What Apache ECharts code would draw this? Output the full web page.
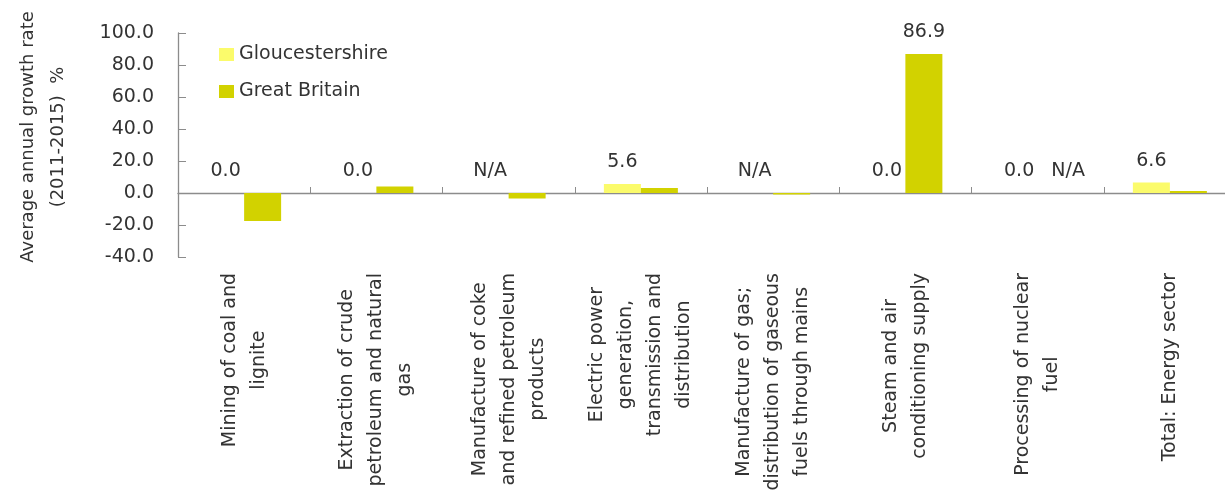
<!DOCTYPE html>
<html>
<head>
<meta charset="utf-8">
<script src="https://cdn.jsdelivr.net/npm/echarts@6/dist/echarts.min.js"></script>
<style>html,body{margin:0;padding:0;background:#fff}#c{width:1225px;height:494px}</style>
</head>
<body>
<div id="c"></div>
<script>
var categories = [
  "Mining of coal and\nlignite",
  "Extraction of crude\npetroleum and natural\ngas",
  "Manufacture of coke\nand refined petroleum\nproducts",
  "Electric power\ngeneration,\ntransmission and\ndistribution",
  "Manufacture of gas;\ndistribution of gaseous\nfuels through mains",
  "Steam and air\nconditioning supply",
  "Processing of nuclear\nfuel",
  "Total: Energy sector"
];
var seriesNames = ["Gloucestershire", "Great Britain"];
// null = N/A
var gloucestershire = [0.0, 0.0, null, 5.6, null, 0.0, 0.0, 6.6];
var greatBritain = [-17.5, 4.0, -3.5, 3.1, -1.0, 86.9, null, 1.2];
var gloucShowLabel = [true, true, true, true, true, true, true, true];
var gbShowLabel = [false, false, false, false, false, true, true, false];
var yTicks = [-40, -20, 0, 20, 40, 60, 80, 100];

var FONT = "DejaVu Sans";
var TXT = "#333333";
var FS = 19;

function buildData(values, show, extraOffset) {
  return values.map(function (v, i) {
    var isNA = v === null;
    return {
      value: isNA ? 0 : v,
      label: {
        show: show[i],
        formatter: isNA ? "N/A" : v.toFixed(1),
        offset: (isNA && extraOffset) ? [12, 0] : [0, 0]
      }
    };
  });
}

var chart = echarts.init(document.getElementById("c"));
chart.setOption({
  animation: false,
  backgroundColor: "#ffffff",
  textStyle: { fontFamily: FONT },
  legend: {
    orient: "vertical",
    left: 214,
    top: 40,
    itemWidth: 15,
    itemHeight: 13,
    itemGap: 18,
    icon: "rect",
    textStyle: { fontFamily: FONT, fontSize: FS, color: TXT },
    data: seriesNames
  },
  grid: { left: 178, right: -11, top: 33, bottom: 237, containLabel: false, outerBoundsMode: "none" },
  xAxis: {
    type: "category",
    data: categories,
    axisLine: { onZero: true, lineStyle: { color: "#8c8c8c", width: 1.3 } },
    axisTick: { show: true, inside: true, length: 6, lineStyle: { color: "#8c8c8c" } },
    axisLabel: {
      interval: 0,
      rotate: 90,
      margin: 16,
      fontFamily: FONT,
      fontSize: FS,
      color: TXT,
      lineHeight: 29,
      formatter: function (val) {
        return val.split("\n").map(function (l) { return "{c|" + l + "}"; }).join("\n");
      },
      rich: {
        c: { align: "center", fontFamily: FONT, fontSize: FS, color: TXT, lineHeight: 29 }
      }
    },
    splitLine: { show: false }
  },
  yAxis: {
    type: "value",
    min: -40,
    max: 100,
    interval: 20,
    name: "Average annual growth rate\n(2011-2015)  %",
    nameLocation: "middle",
    nameRotate: 90,
    nameGap: 105,
    nameTextStyle: { fontFamily: FONT, fontSize: 18, color: TXT, lineHeight: 30, align: "center", padding: [0, 0, 0, 16] },
    axisLine: { show: true, lineStyle: { color: "#8c8c8c", width: 1.3 } },
    axisTick: { show: true, inside: true, length: 8, lineStyle: { color: "#8c8c8c" } },
    axisLabel: {
      margin: 24,
      fontFamily: FONT,
      fontSize: FS,
      color: TXT,
      formatter: function (v) { return yTicks.indexOf(v) >= 0 ? v.toFixed(1) : ""; }
    },
    splitLine: { show: false }
  },
  series: [
    {
      name: seriesNames[0],
      type: "bar",
      data: buildData(gloucestershire, gloucShowLabel, false),
      barWidth: 37,
      barGap: "0%",
      itemStyle: { color: "#fbfb6b" },
      label: { show: true, position: "top", distance: 12, fontFamily: FONT, fontSize: FS, color: TXT }
    },
    {
      name: seriesNames[1],
      type: "bar",
      data: buildData(greatBritain, gbShowLabel, true),
      barWidth: 37,
      barGap: "0%",
      itemStyle: { color: "#d2d200" },
      label: { show: true, position: "top", distance: 12, fontFamily: FONT, fontSize: FS, color: TXT }
    }
  ]
});
</script>
</body>
</html>
